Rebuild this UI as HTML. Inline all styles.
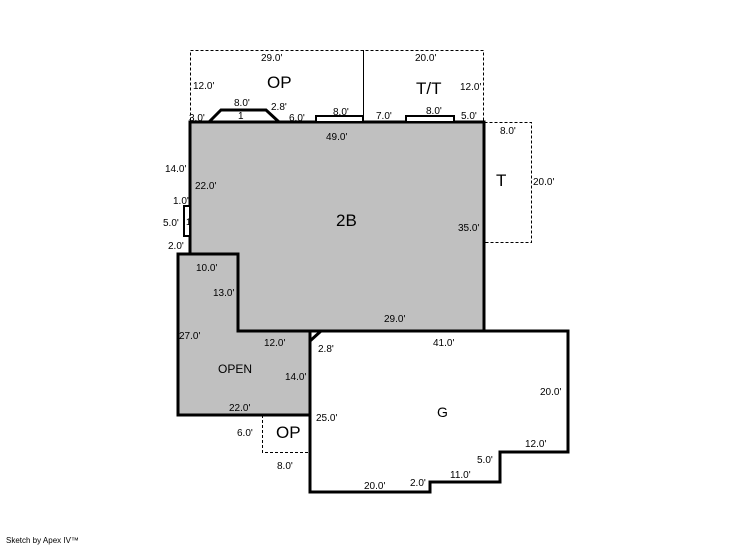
<!DOCTYPE html>
<html><head><meta charset="utf-8"><style>
html,body{margin:0;padding:0;background:#fff;}
svg{display:block;}
text{font-family:"Liberation Sans",Arial,sans-serif;fill:#000;}
.s{font-size:10px;}
</style></head><body>
<svg width="746" height="547" viewBox="0 0 746 547" xmlns="http://www.w3.org/2000/svg">
<g fill="none" stroke="#000" stroke-width="1" stroke-dasharray="3,2">
<rect x="190.5" y="50.5" width="293" height="72"/>
<rect x="484.5" y="122.5" width="47" height="120"/>
<polyline points="262.5,415 262.5,452.5 310,452.5"/>
</g>
<line x1="363.5" y1="50" x2="363.5" y2="116" stroke="#000" stroke-width="1"/>
<polygon points="190,122 484,122 484,331 310,331 310,415 178,415 178,254 190,254" fill="#c0c0c0"/>
<g fill="none" stroke="#000" stroke-width="3">
<polygon points="190,122 484,122 484,331 238,331 238,254 190,254"/>
<polygon points="178,254 238,254 238,331 310,331 310,415 178,415"/>
<polygon points="310,331 568,331 568,452 500,452 500,482 430,482 430,492 310,492" fill="#fff"/>
<polyline points="209,122 221,110 266,110 279,122"/>
<line x1="310" y1="341" x2="321" y2="331"/>
<rect x="316" y="116" width="47" height="6" fill="#fff" stroke-width="2"/>
<rect x="406" y="116" width="48" height="6" fill="#fff" stroke-width="2"/>
<rect x="184" y="206" width="6" height="30" fill="#fff" stroke-width="2"/>
</g>
<text x="267" y="88" font-size="17">OP</text>
<text x="416" y="94" font-size="17">T/T</text>
<text x="496" y="186" font-size="17">T</text>
<text x="336" y="226" font-size="17">2B</text>
<text x="218" y="373" font-size="12">OPEN</text>
<text x="437" y="417" font-size="14">G</text>
<text x="276" y="438" font-size="17">OP</text>
<g class="s">
<text x="261" y="61">29.0'</text>
<text x="415" y="61">20.0'</text>
<text x="193" y="89">12.0'</text>
<text x="460" y="90">12.0'</text>
<text x="234" y="106">8.0'</text>
<text x="271" y="110">2.8'</text>
<text x="238" y="119">1</text>
<text x="189" y="121">3.0'</text>
<text x="289" y="121">6.0'</text>
<text x="333" y="115">8.0'</text>
<text x="376" y="119">7.0'</text>
<text x="426" y="114">8.0'</text>
<text x="461" y="119">5.0'</text>
<text x="326" y="140">49.0'</text>
<text x="500" y="134">8.0'</text>
<text x="533" y="185">20.0'</text>
<text x="165" y="172">14.0'</text>
<text x="195" y="189">22.0'</text>
<text x="173" y="204">1.0'</text>
<text x="163" y="226">5.0'</text>
<text x="186" y="225" font-size="9">1</text>
<text x="168" y="249">2.0'</text>
<text x="458" y="231">35.0'</text>
<text x="196" y="271">10.0'</text>
<text x="213" y="296">13.0'</text>
<text x="384" y="322">29.0'</text>
<text x="179" y="339">27.0'</text>
<text x="264" y="346">12.0'</text>
<text x="318" y="352">2.8'</text>
<text x="433" y="346">41.0'</text>
<text x="285" y="380">14.0'</text>
<text x="540" y="395">20.0'</text>
<text x="229" y="411">22.0'</text>
<text x="316" y="421">25.0'</text>
<text x="237" y="436">6.0'</text>
<text x="525" y="447">12.0'</text>
<text x="477" y="463">5.0'</text>
<text x="277" y="469">8.0'</text>
<text x="450" y="478">11.0'</text>
<text x="410" y="486">2.0'</text>
<text x="364" y="489">20.0'</text>
</g>
<text x="6" y="543" font-size="8">Sketch by Apex IV™</text>
</svg>
</body></html>
